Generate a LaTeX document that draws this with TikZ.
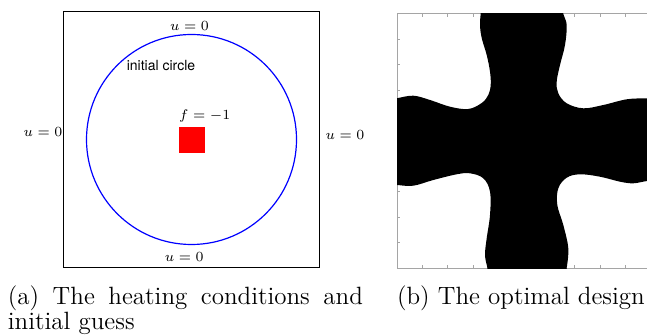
\documentclass[tikz,border=0pt]{standalone}
\usepackage{fontspec}
\usetikzlibrary{positioning}
\newfontfamily\labelfont{TeX Gyre Heros}
\definecolor{framegray}{RGB}{165,165,165}
\definecolor{heatred}{RGB}{255,0,0}

\begin{document}
\begin{tikzpicture}[
  x=0.5pt, y=-0.5pt,
  bc/.style={inner sep=0pt, font=\fontsize{7}{8}\selectfont},
  tag/.style={inner sep=0pt, font=\fontsize{7}{8}\selectfont\labelfont},
  caption/.style={inner sep=0pt, font=\fontsize{12.5}{12.5}\selectfont},
  tickmark/.style={framegray, line width=0.4pt}
]
\useasboundingbox (0,0) rectangle (647,336);

% (a) heating conditions and initial guess
\node[draw, line width=0.6pt, minimum size=128pt, inner sep=0pt] (domain) at (191.3,139.5) {};
\node[circle, draw=blue, line width=0.6pt, minimum size=105pt, inner sep=0pt] (init) at (191.5,139.5) {};
\node[fill=heatred, minimum size=13pt, inner sep=0pt] (source) at (192,140) {};
\node[bc] (top) at (189.5,25.5) {$u=0$};
\node[bc] (bottom) at (184.3,257) {$u=0$};
\node[bc] (left) at (43,132) {$u=0$};
\node[bc] (right) at (345,135) {$u=0$};
\node[tag] (circlelabel) at (161,66) {initial circle};
\node[bc] (heat) at (204.7,115.7) {$f=-1$};

% (b) optimal design
\begin{scope}
  \clip (380,0) rectangle (647,280);
  \draw[framegray, line width=0.5pt] (397,14) rectangle (651,268);
  \foreach \k in {1,...,9} {
    \draw[tickmark] ({397+25.4*\k},14) -- ++(0,3);
    \draw[tickmark] ({397+25.4*\k},268) -- ++(0,-3);
    \draw[tickmark] (397,{14+25.4*\k}) -- ++(3,0);
    \draw[tickmark] (651,{14+25.4*\k}) -- ++(-4,0);
  }
  \clip (397,14) rectangle (651,268);
  \fill[black] (480.7,5)
    -- plot[smooth, tension=0.6] coordinates {(480.7,14) (480,25) (481.7,38) (486.7,55) (490,71.7) (490.7,85) (488.3,95) (481.7,103) (468.3,109) (450,106.7) (430,100) (413.3,95.7) (396.7,98.3) (390,99.5)}
    -- (385,99.5) -- (385,185)
    -- plot[smooth, tension=0.6] coordinates {(390,185) (396.7,185) (413.3,185.7) (433.3,180) (456.7,174.3) (470,173.3) (483.3,178.3) (490,191.7) (490,215) (486.7,238.3) (485,255) (487.3,267.7) (488,275)}
    -- (567,275)
    -- plot[smooth, tension=0.6] coordinates {(566.7,267.7) (568.3,248.3) (563.3,225) (557.3,205) (558.3,188.3) (566.7,177.7) (580,174.3) (600,176.7) (620,181.7) (633.3,183.3) (647,181) (660,180)}
    -- (665,180) -- (665,98)
    -- plot[smooth, tension=0.6] coordinates {(660,98) (647,98.3) (626.7,99.3) (603.3,105) (583.3,108.3) (566.7,103.3) (558.3,93.3) (556.7,81.7) (560,65) (565,45) (566.7,25) (563.3,14) (563,5)}
    -- cycle;
\end{scope}

% captions
\node[caption, text width=177.5pt, align=justify, anchor=base west] (capa) at (7.5,304.3)
  {(a) The heating conditions and\linebreak initial guess};
\node[caption, anchor=base west] (capb) at (396.7,304.3) {(b) The optimal design};
\end{tikzpicture}
\end{document}
